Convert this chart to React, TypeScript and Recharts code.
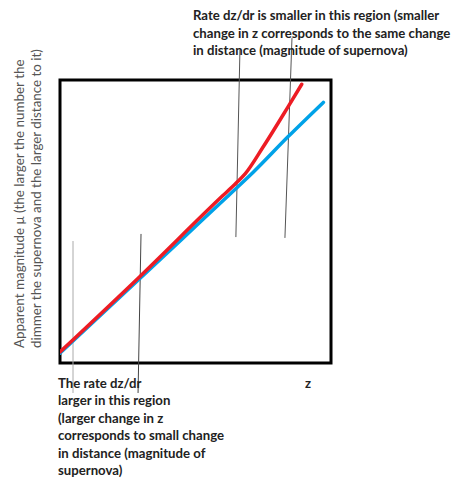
import React from "react";
import { LineChart, Line, XAxis, YAxis, ReferenceArea, ReferenceLine } from "recharts";

// x = z (0..100), y = apparent magnitude (0..100)
const redPoints = [
  { x: 0, y: 3.9 },
  { x: 29.5, y: 30.6 },
  { x: 59.7, y: 58.8 },
  { x: 65, y: 63.6 },
  { x: 68.3, y: 66.8 },
  { x: 75, y: 76.4 },
  { x: 84.2, y: 90.6 },
  { x: 89.2, y: 98.5 },
];

const bluePoints = [
  { x: 0, y: 3.5 },
  { x: 44.3, y: 43.1 },
  { x: 61.5, y: 58.6 },
  { x: 71.3, y: 67.4 },
  { x: 84.2, y: 80.0 },
  { x: 97.2, y: 92.1 },
];

// hand-drawn pointer lines (data units, partly outside the frame)
const pointerLines = [
  { from: { x: 66.4, y: 110.6 }, to: { x: 64.9, y: 44.5 }, color: "#555" },
  { from: { x: 85.6, y: 114.8 }, to: { x: 83.0, y: 44.2 }, color: "#555" },
  { from: { x: 4.8, y: 43.1 }, to: { x: 4.8, y: -10.6 }, color: "#aaa" },
  { from: { x: 29.9, y: 45.6 }, to: { x: 28.8, y: -10.6 }, color: "#444" },
];

const topNote = [
  "Rate dz/dr is smaller in this region (smaller",
  "change in z corresponds to the same change",
  "in distance (magnitude of supernova)",
];

const bottomNote = [
  "The rate dz/dr",
  "larger in this region",
  "(larger change in z",
  "corresponds to small change",
  "in distance (magnitude of",
  "supernova)",
];

const yLabel = [
  "Apparent magnitude \u03bc (the larger the number the",
  "dimmer the supernova and the larger distance to it)",
];

const xLabel = "z";

const font = "Lato, 'Open Sans', sans-serif";

export default function App() {
  return (
    <div style={{ position: "relative", width: 452, height: 481, background: "#fff" }}>
      <style>{`body{margin:0}`}</style>
      <LineChart
        width={452}
        height={481}
        margin={{ top: 80, right: 121, bottom: 118, left: 60 }}
      >
        <XAxis type="number" dataKey="x" domain={[0, 100]} hide allowDataOverflow />
        <YAxis type="number" dataKey="y" domain={[0, 100]} hide allowDataOverflow />
        {pointerLines.map((p, i) => (
          <ReferenceLine
            key={i}
            segment={[p.from, p.to]}
            stroke={p.color}
            strokeWidth={1}
            ifOverflow="visible"
          />
        ))}
        <Line
          data={bluePoints}
          dataKey="y"
          type="monotone"
          stroke="#00a2e8"
          strokeWidth={3.5}
          strokeLinecap="round"
          dot={false}
          isAnimationActive={false}
        />
        <Line
          data={redPoints}
          dataKey="y"
          type="monotone"
          stroke="#ed1c24"
          strokeWidth={3.5}
          strokeLinecap="round"
          dot={false}
          isAnimationActive={false}
        />
        <ReferenceArea
          x1={0}
          x2={100}
          y1={0}
          y2={100}
          fill="none"
          stroke="#000"
          strokeWidth={3}
          ifOverflow="visible"
        />
      </LineChart>
      <svg
        width={452}
        height={481}
        style={{ position: "absolute", left: 0, top: 0, pointerEvents: "none" }}
        fontFamily={font}
      >
        {topNote.map((t, i) => (
          <text key={i} x={193} y={20 + i * 17.5} fontSize={13.2} fontWeight={700} fill="#222">
            {t}
          </text>
        ))}
        {bottomNote.map((t, i) => (
          <text key={i} x={58} y={388 + i * 17.45} fontSize={13.2} fontWeight={700} fill="#222">
            {t}
          </text>
        ))}
        <text x={305} y={388} fontSize={13.2} fontWeight={700} fill="#222">
          {xLabel}
        </text>
        {yLabel.map((t, i) => (
          <text
            key={i}
            transform={`translate(${24 + i * 17}, 348) rotate(-90)`}
            fontSize={13.4}
            fill="#555"
          >
            {t}
          </text>
        ))}
      </svg>
    </div>
  );
}
